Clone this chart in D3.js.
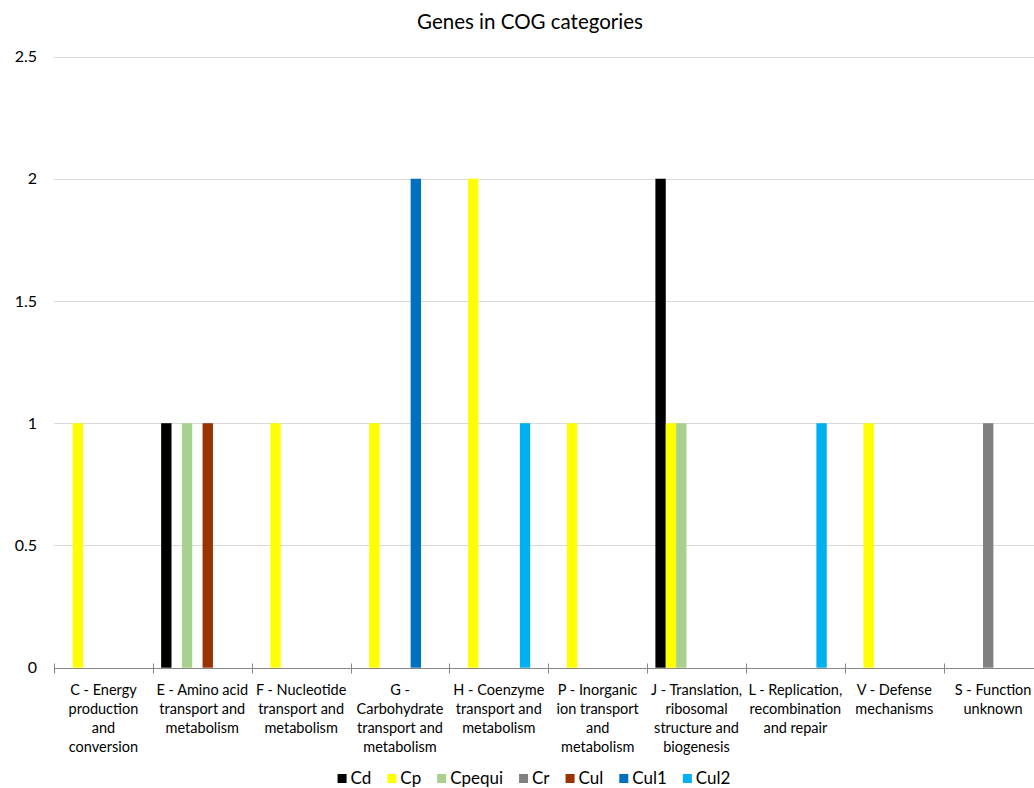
<!DOCTYPE html>
<html>
<head>
<meta charset="utf-8">
<script src="https://cdn.jsdelivr.net/npm/d3@7/dist/d3.min.js"></script>
<style>
  html, body { margin: 0; padding: 0; background: #fff; }
  svg { display: block; font-family: Lato, "Open Sans", sans-serif; }
</style>
</head>
<body>
<svg id="chart" width="1034" height="788"></svg>
<script>
// COG categories (line breaks mark how each label wraps under the axis)
const categories = [
  "C - Energy\nproduction\nand\nconversion",
  "E - Amino acid\ntransport and\nmetabolism",
  "F - Nucleotide\ntransport and\nmetabolism",
  "G -\nCarbohydrate\ntransport and\nmetabolism",
  "H - Coenzyme\ntransport and\nmetabolism",
  "P - Inorganic\nion transport\nand\nmetabolism",
  "J - Translation,\nribosomal\nstructure and\nbiogenesis",
  "L - Replication,\nrecombination\nand repair",
  "V - Defense\nmechanisms",
  "S - Function\nunknown"
];

const seriesNames = ["Cd", "Cp", "Cpequi", "Cr", "Cul", "Cul1", "Cul2"];
const seriesColors = ["#000000", "#ffff00", "#a9d18e", "#808080", "#993300", "#0070c0", "#00b0f0"];

// gene counts per series, one value per category (C, E, F, G, H, P, J, L, V, S)
const Cd     = [0, 1, 0, 0, 0, 0, 2, 0, 0, 0];
const Cp     = [1, 0, 1, 1, 2, 1, 1, 0, 1, 0];
const Cpequi = [0, 1, 0, 0, 0, 0, 1, 0, 0, 0];
const Cr     = [0, 0, 0, 0, 0, 0, 0, 0, 0, 1];
const Cul    = [0, 1, 0, 0, 0, 0, 0, 0, 0, 0];
const Cul1   = [0, 0, 0, 2, 0, 0, 0, 0, 0, 0];
const Cul2   = [0, 0, 0, 0, 1, 0, 0, 1, 0, 0];

const yTicks = [0, 0.5, 1, 1.5, 2, 2.5];

const seriesValues = [Cd, Cp, Cpequi, Cr, Cul, Cul1, Cul2];

const svg = d3.select("#chart");

const x = d3.scaleBand().domain(d3.range(categories.length)).range([54, 1042.5]).padding(0);
const xInner = d3.scaleBand().domain(seriesNames).range([8.3, 80.8]).padding(0);
const y = d3.scaleLinear().domain([0, 2.5]).range([667.7, 56.5]);

// title
svg.append("text")
  .attr("x", 530).attr("y", 29)
  .attr("text-anchor", "middle")
  .attr("font-size", 20.5)
  .attr("fill", "#000")
  .text("Genes in COG categories");

// horizontal gridlines
svg.append("g").selectAll("line")
  .data(yTicks.filter(d => d > 0))
  .join("line")
  .attr("x1", 54).attr("x2", 1042)
  .attr("y1", d => Math.round(y(d)) + 0.5).attr("y2", d => Math.round(y(d)) + 0.5)
  .attr("stroke", "#d9d9d9").attr("stroke-width", 1);

// y tick labels
const yAxis = d3.axisLeft(y).tickValues(yTicks).tickSize(0).tickPadding(0)
  .tickFormat(d3.format("~g"));
const yg = svg.append("g").attr("transform", "translate(37,0)").call(yAxis);
yg.select(".domain").remove();
yg.selectAll("text").attr("font-size", 16).attr("font-family", "Lato, 'Open Sans', sans-serif").attr("fill", "#000");

// bars
const barData = [];
seriesNames.forEach((s, si) => {
  seriesValues[si].forEach((v, ci) => {
    if (v > 0) barData.push({ series: s, color: seriesColors[si], cat: ci, value: v });
  });
});
svg.append("g").selectAll("rect")
  .data(barData)
  .join("rect")
  .attr("x", d => x(d.cat) + xInner(d.series))
  .attr("width", xInner.bandwidth())
  .attr("y", d => y(d.value))
  .attr("height", d => y(0) - y(d.value))
  .attr("fill", d => d.color);

// category axis line and crossing tick marks at category boundaries
const axisY = Math.round(y(0)) + 0.5;
svg.append("line")
  .attr("x1", 54).attr("x2", 1042).attr("y1", axisY).attr("y2", axisY)
  .attr("stroke", "#868686").attr("stroke-width", 1);
svg.append("g").selectAll("line")
  .data(d3.range(categories.length + 1))
  .join("line")
  .attr("x1", i => Math.round(x.range()[0] + i * x.step()) + 0.5)
  .attr("x2", i => Math.round(x.range()[0] + i * x.step()) + 0.5)
  .attr("y1", axisY - 5).attr("y2", axisY + 5)
  .attr("stroke", "#868686").attr("stroke-width", 1);

// category labels
const labels = svg.append("g").selectAll("text")
  .data(categories)
  .join("text")
  .attr("text-anchor", "middle")
  .attr("font-size", 14.5)
  .attr("fill", "#000")
  .attr("transform", (d, i) => `translate(${x(i) + x.bandwidth() / 2},695)`);
labels.selectAll("tspan")
  .data(d => d.split("\n"))
  .join("tspan")
  .attr("x", 0)
  .attr("y", (d, i) => i * 19)
  .text(d => d);

// legend
const legend = svg.append("g");
const items = legend.selectAll("g")
  .data(seriesNames)
  .join("g");
items.append("rect")
  .attr("width", 9).attr("height", 9)
  .attr("y", -10)
  .attr("fill", (d, i) => seriesColors[i]);
items.append("text")
  .attr("x", 13).attr("y", 0)
  .attr("font-size", 17)
  .attr("fill", "#000")
  .text(d => d);
const gap = 16;
let cursor = 0;
items.each(function () {
  const g = d3.select(this);
  g.attr("transform", `translate(${cursor},0)`);
  const w = g.select("text").node().getComputedTextLength();
  cursor += 13 + w + gap;
});
const total = cursor - gap;
legend.attr("transform", `translate(${534 - total / 2},784)`);
</script>
</body>
</html>
